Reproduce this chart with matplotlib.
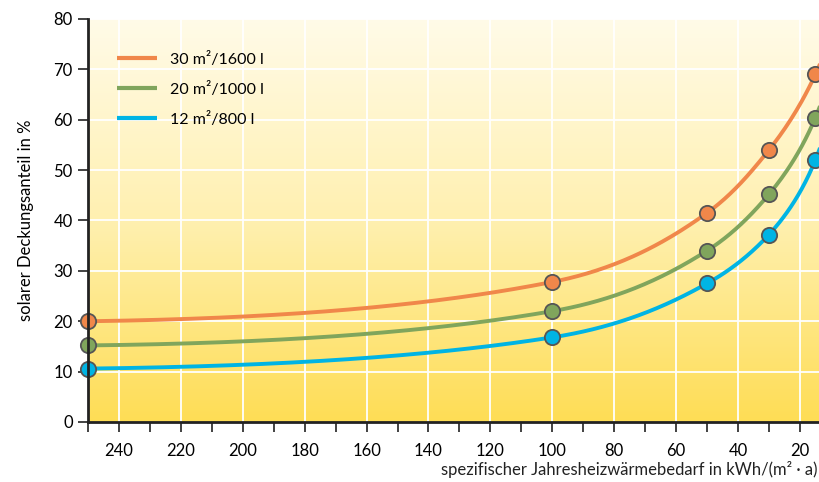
import matplotlib
matplotlib.use('Agg')

import matplotlib.pyplot as plt
import numpy as np
from matplotlib.colors import LinearSegmentedColormap

plt.rcParams['font.family'] = ['Lato', 'DejaVu Sans']

# heating demand in kWh/(m²·a)
demand = [250, 100, 50, 30, 15]
# solar fraction in %
s30 = [20.0, 27.8, 41.5, 54.0, 69.0]
s20 = [15.2, 22.0, 34.0, 45.2, 60.4]
s12 = [10.6, 16.8, 27.5, 37.2, 52.0]
labels = ['30 m²/1600 l', '20 m²/1000 l', '12 m²/800 l']
colors = ['#F0874A', '#80A55C', '#00B4E4']

x_ticks = [240, 220, 200, 180, 160, 140, 120, 100, 80, 60, 40, 20]
y_ticks = [0, 10, 20, 30, 40, 50, 60, 70, 80]


def pchip(xk, yk, xs):
    # monotone cubic through the points (Fritsch-Carlson), extrapolates at ends
    xk = np.asarray(xk, float); yk = np.asarray(yk, float)
    h = np.diff(xk); d = np.diff(yk) / h
    m = np.zeros_like(xk)
    for i in range(1, len(xk) - 1):
        if d[i-1] * d[i] > 0:
            w1 = 2*h[i] + h[i-1]; w2 = h[i] + 2*h[i-1]
            m[i] = (w1 + w2) / (w1/d[i-1] + w2/d[i])
    m[0] = ((2*h[0] + h[1])*d[0] - h[0]*d[1]) / (h[0] + h[1])
    m[-1] = ((2*h[-1] + h[-2])*d[-1] - h[-1]*d[-2]) / (h[-1] + h[-2])
    idx = np.clip(np.searchsorted(xk, xs) - 1, 0, len(xk) - 2)
    t = (xs - xk[idx]) / h[idx]
    h00 = 2*t**3 - 3*t**2 + 1; h10 = t**3 - 2*t**2 + t
    h01 = -2*t**3 + 3*t**2; h11 = t**3 - t**2
    return h00*yk[idx] + h10*h[idx]*m[idx] + h01*yk[idx+1] + h11*h[idx]*m[idx+1]


fig = plt.figure(figsize=(8.2, 4.82), dpi=100)
ax = fig.add_axes([88/820, 60/482, 1 - 88/820, 403/482])

xmin, xmax = 250, 13.5
ax.set_xlim(xmin, xmax)
ax.set_ylim(0, 80)

# background gradient
cmap = LinearSegmentedColormap.from_list('bg', ['#FEDD55', '#FFF0B0', '#FFFBE8'])
grad = np.linspace(0, 1, 256).reshape(-1, 1)
ax.imshow(grad, cmap=cmap, origin='lower', aspect='auto',
          extent=[xmin, xmax, 0, 80], zorder=0)

for v in x_ticks:
    ax.axvline(v, color='white', lw=1.3, zorder=1)
for v in y_ticks[1:]:
    ax.axhline(v, color='white', lw=1.3, zorder=1)

lx = np.log(demand[::-1])
xs = np.linspace(xmax, xmin, 400)
for ys, c, lab in zip([s30, s20, s12], colors, labels):
    yy = pchip(lx, ys[::-1], np.log(xs))
    ax.plot(xs, yy, color=c, lw=2.8, zorder=3, label=lab, solid_capstyle='butt')
    ax.plot(demand, ys, 'o', ms=11, mfc=c, mec='#555555', mew=1.3, zorder=4,
            clip_on=False)

ax.set_xticks(x_ticks)
ax.set_xticks(np.arange(250, 10, -10), minor=True)
ax.set_yticks(y_ticks)
ax.tick_params(axis='both', labelsize=12, color='#222222', width=1.2, length=7,
               direction='out', pad=4)
ax.tick_params(axis='x', which='minor', length=7, width=1.2, color='#222222')
ax.tick_params(axis='x', pad=8)

for s in ['top', 'right']:
    ax.spines[s].set_visible(False)
for s in ['left', 'bottom']:
    ax.spines[s].set_linewidth(2)
    ax.spines[s].set_color('#222222')
    ax.spines[s].set_zorder(5)

ax.set_ylabel('solarer Deckungsanteil in %', fontsize=12, labelpad=14)
fig.text(818/820, 12/482, 'spezifischer Jahresheizwärmebedarf in kWh/(m² · a)',
         fontsize=12, ha='right', va='center', color='#222222')

leg = ax.legend(loc='upper left', bbox_to_anchor=(0.02, 0.955), frameon=False,
                fontsize=11.5, handlelength=2.5, handletextpad=0.8,
                labelspacing=0.95)
for line in leg.get_lines():
    line.set_linewidth(3)

fig.savefig('out.png', dpi=100)
plt.close()
